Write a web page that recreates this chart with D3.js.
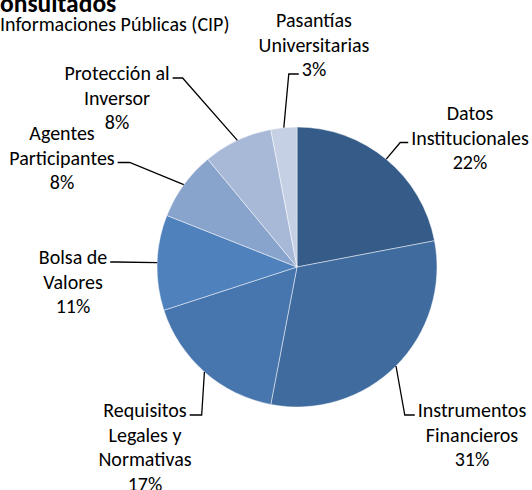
<!DOCTYPE html>
<html>
<head>
<meta charset="utf-8">
<script src="https://cdn.jsdelivr.net/npm/d3@7"></script>
<style>
  body { margin: 0; background: #fff; }
  svg { display: block; }
  text { font-family: Carlito, Calibri, Lato, sans-serif; fill: #000; }
</style>
</head>
<body>
<div id="chart"></div>
<script>
// slices, clockwise from 12 o'clock
const categories = [
  ["Datos", "Institucionales"],
  ["Instrumentos", "Financieros"],
  ["Requisitos", "Legales y", "Normativas"],
  ["Bolsa de", "Valores"],
  ["Agentes", "Participantes"],
  ["Protección al", "Inversor"],
  ["Pasantías", "Universitarias"]
];
const values = [22, 31, 17, 11, 8, 8, 3];
const colors = ["#355C89", "#3F6B9E", "#4775AD", "#4F81BD", "#88A3CC", "#A8B8D7", "#C5D0E5"];

const titleText = "onsultados";
const subtitleText = "Informaciones Públicas (CIP)";

// manual label placement (like the hand-moved labels of the original)
// cx: block centre, y: centre of first line, attach: line the leader joins, side: where it joins
const labelLayout = [
  { cx: 470, y: 113, attach: 1, side: "left", elbow: 8 },
  { cx: 472, y: 410, attach: 0, side: "left", elbow: 10 },
  { cx: 145, y: 410, attach: 0, side: "right", elbow: 12 },
  { cx: 73, y: 257, attach: 0, side: "right", elbow: 6 },
  { cx: 62, y: 133, attach: 1, side: "right", elbow: 12 },
  { cx: 117, y: 73, attach: 0, side: "right", elbow: 10 },
  { cx: 314, y: 20, attach: 2, side: "left", elbow: 10 }
];

const width = 532, height = 490,
  cx = 297, cy = 267, radius = 140,
  lineH = 24.5, fontSize = 20;

const svg = d3.select("#chart")
  .append("svg")
    .attr("width", width)
    .attr("height", height);

// title (cut off by the frame, as in the original)
svg.append("text")
    .attr("x", 0)
    .attr("y", 12)
    .style("font-size", "25.5px")
    .style("font-weight", "bold")
    .text(titleText);

svg.append("text")
    .attr("x", 0)
    .attr("y", 31)
    .style("font-size", "20px")
    .text(subtitleText);

const pie = d3.pie().sort(null).value(d => d);
const arcs = pie(values);

const arc = d3.arc().innerRadius(0).outerRadius(radius);
const edge = d3.arc().innerRadius(radius).outerRadius(radius);

const g = svg.append("g")
    .attr("transform", "translate(" + cx + "," + cy + ")");

g.selectAll("path")
  .data(arcs)
  .enter()
  .append("path")
    .attr("d", arc)
    .attr("fill", (d, i) => colors[i])
    .attr("stroke", "#ffffff")
    .attr("stroke-opacity", 0.6)
    .attr("stroke-width", 0.8);

// labels
const labels = svg.selectAll("g.label")
  .data(arcs)
  .enter()
  .append("g")
    .attr("class", "label");

labels.each(function(d, i) {
  const lay = labelLayout[i];
  const lines = categories[i].concat([Math.round(d.value) + "%"]);
  const sel = d3.select(this);
  const texts = sel.selectAll("text")
    .data(lines)
    .enter()
    .append("text")
      .attr("x", lay.cx)
      .attr("y", (t, j) => lay.y + j * lineH)
      .attr("dy", "0.35em")
      .attr("text-anchor", "middle")
      .style("font-size", fontSize + "px")
      .text(t => t);

  // leader line: slice edge -> elbow -> text
  const node = texts.nodes()[lay.attach];
  const w = node.getComputedTextLength();
  const ly = lay.y + lay.attach * lineH + 5;
  const endX = lay.side === "left" ? lay.cx - w / 2 - 3 : lay.cx + w / 2 + 3;
  const elbowX = lay.side === "left" ? endX - lay.elbow : endX + lay.elbow;
  const p = edge.centroid(d);
  const pts = [[cx + p[0], cy + p[1]], [elbowX, ly], [endX, ly]];

  sel.append("path")
    .attr("d", d3.line()(pts))
    .attr("fill", "none")
    .attr("stroke", "#000")
    .attr("stroke-width", 1.3);
});
</script>
</body>
</html>
